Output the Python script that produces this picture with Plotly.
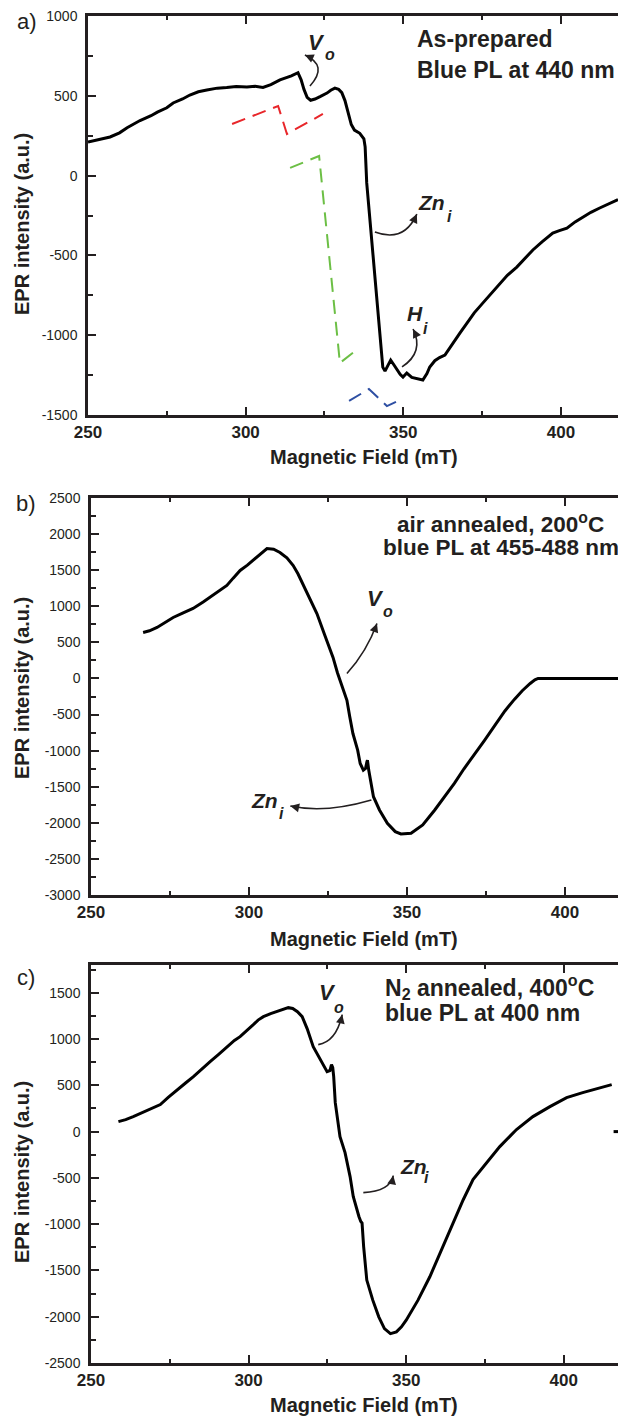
import plotly.graph_objects as go

W, H = 618, 1416
FONT = "Arial, Liberation Sans, Helvetica, sans-serif"
INK = "#231f20"

# ---------------- data ----------------
# Panel a: as-prepared
field_a = [250.0, 253, 257, 260, 262.4, 266.5, 270, 272, 275, 277, 280, 282.3, 285, 287.7, 291, 294, 297,
           300.4, 303, 305.5, 308, 310.9, 313, 314.5, 316.6, 317.6, 318.5, 319.5, 320.6, 322, 323.6, 325.8,
           327, 328.3, 329.5, 330.5, 331.5, 332.4, 333.5, 334.5, 336.2, 337.5, 337.9, 338.4, 339.4, 341,
           342.6, 343.5, 344.2, 345, 346, 347, 347.9, 349, 349.9, 351.1, 352.7, 354.5, 356.2, 357.5, 358.4,
           360, 361.5, 363.2, 365.7, 368, 370.2, 372.5, 375.2, 378, 380.6, 383, 386, 388.5, 391.1, 394,
           397.4, 399.5, 401.9, 404.5, 407, 409.5, 412.3, 415, 418.1]
epr_a = [210, 225, 242, 268, 300, 345, 375, 398, 425, 455, 480, 505, 525, 536, 548, 552, 558,
         555, 560, 552, 570, 600, 615, 625, 645, 600, 540, 490, 472, 480, 495, 517,
         535, 548, 540, 520, 470, 400, 320, 285, 265, 230, 180, -46, -278, -673,
         -1030, -1200, -1225, -1190, -1156, -1185, -1215, -1245, -1262, -1237, -1265, -1272, -1281, -1240, -1199,
         -1160, -1140, -1124, -1049, -985, -924, -860, -799, -735, -673, -625, -573, -520, -466, -415,
         -360, -345, -329, -290, -259, -230, -203, -180, -150]

# dashed guide lines in panel a
red_x = [295.7, 310.3, 313.1, 324.5]
red_y = [323, 436, 261, 386]
green_x = [314.1, 323.3, 329.9, 334.7]
green_y = [48, 123, -1174, -1099]
blue_x = [332.8, 339.1, 344.8, 349.6]
blue_y = [-1412, -1337, -1444, -1400]

# Panel b: air annealed 200 C
field_b = [266.5, 268.5, 270.9, 273.5, 276, 279, 282.3, 285.5, 288.6, 291, 293, 295, 297.2, 299.5, 301.3,
           303.5, 305.7, 307.8, 309.8, 312, 314, 315.5, 317, 319.3, 321.5, 324, 326.6, 328, 329.7, 331,
           331.9, 332.9, 334.4, 335.2, 336.2, 336.9, 337.3, 337.5, 337.9, 338.8, 339.4, 341.3, 343.8,
           346.3, 348.1, 351.3, 355, 358.8, 362, 365, 368, 371.3, 374.5, 377.5, 381, 384, 386.5, 389,
           390.5, 391.5, 395, 400, 405, 410, 416.8]
epr_b = [637, 660, 706, 780, 845, 905, 970, 1060, 1150, 1220, 1288, 1390, 1496, 1570, 1634,
         1720, 1800, 1790, 1745, 1670, 1565, 1450, 1316, 1100, 900, 600, 291, 80, -125, -302,
         -532, -763, -993, -1177, -1270, -1246, -1160, -1131, -1270, -1500, -1638, -1822, -2007,
         -2122, -2154, -2145, -2030, -1822, -1640, -1454, -1255, -1062, -860, -671, -450, -290, -170, -70,
         -20, 0, 0, 0, 0, 0, 0]

# Panel c: N2 annealed 400 C
field_c = [258.7, 261, 263.4, 266, 268.8, 272, 274.5, 277.3, 280, 282.5, 285, 287.8, 290.5, 293.2, 295.5,
           297.3, 299.5, 301.5, 303, 304.7, 307, 309.1, 311, 312.6, 314, 315.5, 317, 318.6, 320.5, 322.7,
           324, 324.9, 325.8, 326.3, 326.7, 327, 327.5, 328.2, 329, 330.6, 332.2, 333.2, 334.2, 335,
           335.6, 336, 336.5, 337.5, 339.4, 341.3, 343.1, 345, 346.9, 348.5, 350, 351.9, 353.75, 357.5,
           361.25, 365, 368.1, 371.2, 373.5, 375.6, 379.7, 385, 390.2, 395.6, 400.9, 406, 410.5, 415.2,
           None, 415.8, 417.3]
epr_c = [108, 130, 162, 200, 238, 292, 370, 454, 525, 594, 675, 756, 835, 918, 985,
         1026, 1090, 1156, 1205, 1242, 1275, 1296, 1320, 1339, 1330, 1295, 1242, 1110, 918, 778,
         700, 648, 660, 724, 690, 594, 313, 120, -54, -227, -486, -700, -830, -917,
         -971, -989, -1242, -1604, -1821, -2001, -2128, -2182, -2164, -2110, -2037, -1930, -1821, -1568,
         -1278, -989, -736, -518, -420, -335, -162, 22, 162, 270, 367, 421, 465, 508,
         None, 0, 0]

x_ticks = [250, 300, 350, 400]
ya_ticks = [-1500, -1000, -500, 0, 500, 1000]
yb_ticks = [-3000, -2500, -2000, -1500, -1000, -500, 0, 500, 1000, 1500, 2000, 2500]
yc_ticks = [-2500, -2000, -1500, -1000, -500, 0, 500, 1000, 1500]


def px(x):
    return x / W


def py(y):
    return 1 - y / H


fig = go.Figure()
fig.add_trace(go.Scatter(x=field_a, y=epr_a, mode="lines", line=dict(color="black", width=3),
                         xaxis="x", yaxis="y", hoverinfo="skip"))
for gx, gy, col in [(red_x, red_y, "#e8262a"), (green_x, green_y, "#6cbf45"), (blue_x, blue_y, "#2e4fa3")]:
    fig.add_trace(go.Scatter(x=gx, y=gy, mode="lines", line=dict(color=col, width=2, dash="14px,8px"),
                             xaxis="x", yaxis="y", hoverinfo="skip"))
fig.add_trace(go.Scatter(x=field_b, y=epr_b, mode="lines", line=dict(color="black", width=3),
                         xaxis="x2", yaxis="y2", hoverinfo="skip"))
fig.add_trace(go.Scatter(x=field_c, y=epr_c, mode="lines", line=dict(color="black", width=3),
                         xaxis="x3", yaxis="y3", hoverinfo="skip", connectgaps=False))


def xax(domain, anchor, rng):
    return dict(domain=domain, anchor=anchor, range=rng, showline=True, linewidth=2.5, linecolor=INK,
                mirror="ticks", ticks="inside", ticklen=8, tickwidth=2, tickcolor=INK,
                tickvals=x_ticks, ticktext=[str(v) for v in x_ticks],
                tickfont=dict(size=17, family=FONT, color=INK, weight="bold"),
                minor=dict(ticks="inside", ticklen=4, tickwidth=2, tickcolor=INK, dtick=25, tick0=250),
                showgrid=False, zeroline=False, ticklabelstandoff=0, fixedrange=True, automargin=False)


def yax(domain, anchor, rng, vals):
    return dict(domain=domain, anchor=anchor, range=rng, showline=True, linewidth=2.5, linecolor=INK,
                ticks="inside", ticklen=8, tickwidth=2, tickcolor=INK,
                tickvals=vals, ticktext=[str(v) for v in vals],
                tickfont=dict(size=14, family=FONT, color=INK),
                minor=dict(ticks="inside", ticklen=5, tickwidth=2, tickcolor=INK, dtick=250, tick0=0),
                showgrid=False, zeroline=False, ticklabelstandoff=5, fixedrange=True, automargin=False)


fig.update_layout(
    width=W, height=H, margin=dict(l=0, r=0, t=0, b=0, autoexpand=False),
    paper_bgcolor="white", plot_bgcolor="white", showlegend=False,
    xaxis=xax([88 / W, 1], "y", [250, 418.1]),
    yaxis=yax([py(415), py(16)], "x", [-1500, 1000], ya_ticks),
    xaxis2=xax([91 / W, 1], "y2", [250, 416.8]),
    yaxis2=yax([py(895), py(498)], "x2", [-3000, 2500], yb_ticks),
    xaxis3=xax([91 / W, 1], "y3", [250, 417.2]),
    yaxis3=yax([py(1363), py(965)], "x3", [-2500, 1800], yc_ticks),
)

ann = []
shapes = []


def ptext(x, y, text, size, bold=True, xanchor="center", angle=0, italic=False):
    t = text
    if italic:
        t = "<i>" + t + "</i>"
    if bold:
        t = "<b>" + t + "</b>"
    ann.append(dict(x=px(x), y=py(y), xref="paper", yref="paper", text=t, showarrow=False,
                    xanchor=xanchor, yanchor="middle", textangle=angle,
                    font=dict(size=size, family=FONT, color=INK)))


def dtext(xr, yr, x, y, text, size):
    ann.append(dict(x=x, y=y, xref=xr, yref=yr, text="<b><i>" + text + "</i></b>", showarrow=False,
                    xanchor="center", yanchor="middle", font=dict(size=size, family=FONT, color=INK)))


def carrow(xr, yr, p0, c, p1, ax, ay):
    shapes.append(dict(type="path", xref=xr, yref=yr,
                       path=f"M {p0[0]},{p0[1]} Q {c[0]},{c[1]} {p1[0]},{p1[1]}",
                       line=dict(color=INK, width=1.6)))
    ann.append(dict(x=p1[0], y=p1[1], xref=xr, yref=yr, text="", showarrow=True, arrowhead=2,
                    arrowsize=1.1, arrowwidth=1.6, arrowcolor=INK, ax=ax, ay=ay, axref="pixel", ayref="pixel"))


# panel labels
ptext(27, 22, "a)", 22, bold=False)
ptext(26, 504, "b)", 22, bold=False)
ptext(26, 977, "c)", 22, bold=False)

# axis titles
for yc in (457, 939, 1405):
    ptext(364, yc, "Magnetic Field (mT)", 20)
for yc in (224, 688, 1172):
    ptext(22, yc, "EPR intensity (a.u.)", 20, angle=-90)

# condition texts
ptext(415, 39, "As-prepared", 23, xanchor="left")
ptext(415, 70, "Blue PL at 440 nm", 23, xanchor="left")
ptext(500, 523, "air annealed, 200<sup>o</sup>C", 22.5)
ptext(501, 547, "blue PL at 455-488 nm", 22.5)
ptext(383, 987, "N<sub>2</sub> annealed, 400<sup>o</sup>C", 23, xanchor="left")
ptext(383, 1013, "blue PL at 400 nm", 23, xanchor="left")

# defect labels + curved arrows
# panel a
dtext("x", "y", 322.6, 831, "V", 22)
dtext("x", "y", 326.8, 760, "o", 16)
carrow("x", "y", (320.4, 561), (326.3, 690), (318.8, 756), 5.5, 2.5)
dtext("x", "y", 359.1, -166, "Zn", 21)
dtext("x", "y", 364.8, -255, "i", 16)
carrow("x", "y", (341.0, -353), (350.2, -422), (354.3, -241), -2.5, 5.5)
dtext("x", "y", 353.7, -861, "H", 21)
dtext("x", "y", 357.2, -960, "i", 16)
carrow("x", "y", (349.6, -1199), (356.7, -1105), (353.1, -961), 2.7, 5.4)
# panel b
dtext("x2", "y2", 339.9, 1108, "V", 22)
dtext("x2", "y2", 343.9, 925, "o", 16)
carrow("x2", "y2", (331.0, 69), (337.3, 374), (340.5, 762), -2, 5.6)
dtext("x2", "y2", 305, -1684, "Zn", 21)
dtext("x2", "y2", 310.4, -1870, "i", 16)
carrow("x2", "y2", (338.75, -1684), (324.1, -1872), (313.1, -1767), 5.9, 1.3)
# panel c
dtext("x3", "y3", 324.9, 1501, "V", 22)
dtext("x3", "y3", 328.8, 1340, "o", 16)
carrow("x3", "y3", (322.1, 940), (327.8, 972), (329.7, 1264), -1.3, 5.9)
dtext("x3", "y3", 352.2, -378, "Zn", 21)
dtext("x3", "y3", 356.6, -495, "i", 16)
carrow("x3", "y3", (336.4, -659), (344.9, -643), (345.9, -475), -1.1, 5.9)

fig.update_layout(annotations=ann, shapes=shapes)
fig.write_html("out.html")
